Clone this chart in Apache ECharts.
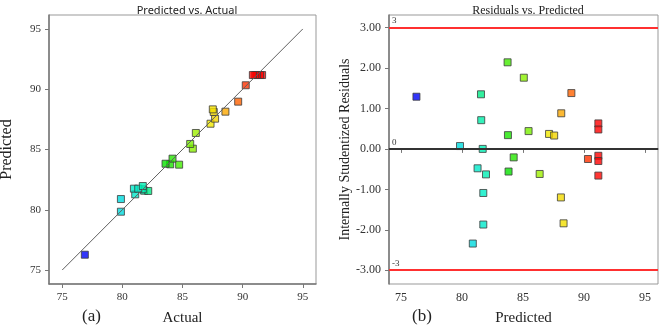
<!DOCTYPE html>
<html>
<head>
<meta charset="utf-8">
<script src="https://cdn.jsdelivr.net/npm/echarts@6/dist/echarts.min.js"></script>
<style>
  html, body { margin: 0; padding: 0; background: #fff; }
  #main { width: 661px; height: 327px; }
</style>
</head>
<body>
<div id="main"></div>
<script>
// runs in the same order for both panels
const actual = [76.88, 79.88, 79.88, 81.07, 81.81, 82.15, 81.70, 80.96, 81.32, 81.70,
  84.72, 85.86, 83.98, 85.64, 84.17, 83.59, 86.11,
  87.33, 87.71, 87.60, 87.52, 88.57, 89.63, 90.26,
  91.62, 91.45, 91.20, 91.05, 90.85];
const predicted = [76.27, 79.84, 80.89, 81.28, 81.58, 81.56, 81.70, 81.75, 81.75, 81.97,
  83.74, 85.07, 83.77, 85.46, 84.24, 83.82, 86.37,
  87.14, 87.56, 88.11, 88.33, 88.14, 88.97, 90.33,
  91.18, 91.18, 91.18, 91.18, 91.18];
const residual = [1.29, 0.07, -2.34, -0.48, 0.71, 1.35, 0.00, -1.87, -1.09, -0.63,
  2.14, 1.76, 0.34, 0.44, -0.21, -0.56, -0.62,
  0.37, 0.33, -1.20, -1.84, 0.88, 1.38, -0.25,
  0.63, 0.48, -0.17, -0.30, -0.66];

const fitLine = [75, 95];
const axisTicks = [75, 80, 85, 90, 95];
const residTicks = [-3, -2, -1, 0, 1, 2, 3];
const limitLines = [3, 0, -3];

const serif = '"Liberation Serif", "DejaVu Serif", serif';

const chart = echarts.init(document.getElementById('main'));

function valAxis(opt) {
  return Object.assign({
    type: 'value',
    axisLine: { show: true, lineStyle: { color: '#777', width: 1.5 } },
    axisTick: { show: true, length: 4, lineStyle: { color: '#777' } },
    axisLabel: { color: '#333', fontFamily: serif, fontSize: 11, margin: 8 },
    splitLine: { show: false },
    nameLocation: 'middle',
    nameTextStyle: { color: '#222', fontFamily: serif, fontSize: 15 }
  }, opt);
}

const scatterStyle = { borderColor: '#3c3c3c', borderWidth: 1 };

const option = {
  animation: false,
  backgroundColor: '#fff',
  title: [
    { text: 'Predicted vs. Actual', left: 182, top: 0, textAlign: 'center',
      textStyle: { fontFamily: 'Noto Sans, sans-serif', fontSize: 11, fontWeight: 'normal', color: '#222' } },
    { text: 'Residuals vs. Predicted', left: 523, top: 0, textAlign: 'center',
      textStyle: { fontFamily: serif, fontSize: 12, fontWeight: 'normal', color: '#222' } }
  ],
  grid: [
    { left: 49, top: 15, width: 267, height: 269, show: true, borderColor: '#999', borderWidth: 1, outerBoundsMode: 'none' },
    { left: 389, top: 15, width: 269, height: 269, show: true, borderColor: '#999', borderWidth: 1, outerBoundsMode: 'none' }
  ],
  xAxis: [
    valAxis({ gridIndex: 0, min: 73.9, max: 96.1, name: 'Actual', nameGap: 27,
      axisTick: { show: true, length: 4, lineStyle: { color: '#777' }, customValues: axisTicks },
      axisLabel: { color: '#333', fontFamily: serif, fontSize: 11, margin: 8, customValues: axisTicks } }),
    valAxis({ gridIndex: 1, min: 74.02, max: 96.07, name: 'Predicted', nameGap: 27,
      axisTick: { show: true, length: 4, lineStyle: { color: '#777' }, customValues: axisTicks },
      axisLabel: { color: '#333', fontFamily: serif, fontSize: 12, margin: 8, customValues: axisTicks } })
  ],
  yAxis: [
    valAxis({ gridIndex: 0, min: 73.84, max: 96.16, name: 'Predicted', nameGap: 34,
      nameTextStyle: { color: '#222', fontFamily: serif, fontSize: 16 },
      axisTick: { show: true, length: 4, lineStyle: { color: '#777' }, customValues: axisTicks },
      axisLabel: { color: '#333', fontFamily: serif, fontSize: 11, margin: 8, customValues: axisTicks } }),
    valAxis({ gridIndex: 1, min: -3.34, max: 3.31, name: 'Internally Studentized Residuals', nameGap: 35,
      nameTextStyle: { color: '#222', fontFamily: serif, fontSize: 14 },
      axisTick: { show: true, length: 4, lineStyle: { color: '#777' }, customValues: residTicks },
      axisLabel: { color: '#333', fontFamily: serif, fontSize: 12, margin: 8, customValues: residTicks,
        formatter: v => v.toFixed(2) } })
  ],
  visualMap: {
    type: 'continuous', show: false, dimension: 2, seriesIndex: [1, 2],
    min: 76.0, max: 92.76,
    inRange: { color: ['#0000f0', '#0008ff', '#00d8e0', '#00f0c0', '#00e000', '#60f000',
      '#f0f000', '#ff9000', '#ff0000', '#ff0000'] }
  },
  series: [
    {
      type: 'line', xAxisIndex: 0, yAxisIndex: 0, symbol: 'none', silent: true,
      data: [[fitLine[0], fitLine[0]], [fitLine[1], fitLine[1]]],
      lineStyle: { color: '#606060', width: 1 }
    },
    {
      type: 'scatter', xAxisIndex: 0, yAxisIndex: 0, symbol: 'rect', symbolSize: 7,
      itemStyle: scatterStyle,
      data: actual.map((a, i) => [a, predicted[i], a])
    },
    {
      type: 'scatter', xAxisIndex: 1, yAxisIndex: 1, symbol: 'rect', symbolSize: 7,
      itemStyle: scatterStyle,
      data: predicted.map((p, i) => [p, residual[i], actual[i]]),
      markLine: {
        silent: true, symbol: 'none',
        label: { show: true, position: 'insideStartTop', distance: [3, 2], color: '#333',
          fontFamily: serif, fontSize: 9, formatter: p => String(p.value) },
        data: limitLines.map(v => ({
          yAxis: v,
          lineStyle: { type: 'solid', width: 2, color: v === 0 ? '#333' : '#ff3030' }
        }))
      },
      z: 3
    }
  ],
  graphic: [
    { type: 'text', left: 82, top: 308, style: { text: '(a)', fontFamily: serif, fontSize: 17, fill: '#222' } },
    { type: 'text', left: 412, top: 308, style: { text: '(b)', fontFamily: serif, fontSize: 17, fill: '#222' } }
  ]
};

chart.setOption(option);
</script>
</body>
</html>
